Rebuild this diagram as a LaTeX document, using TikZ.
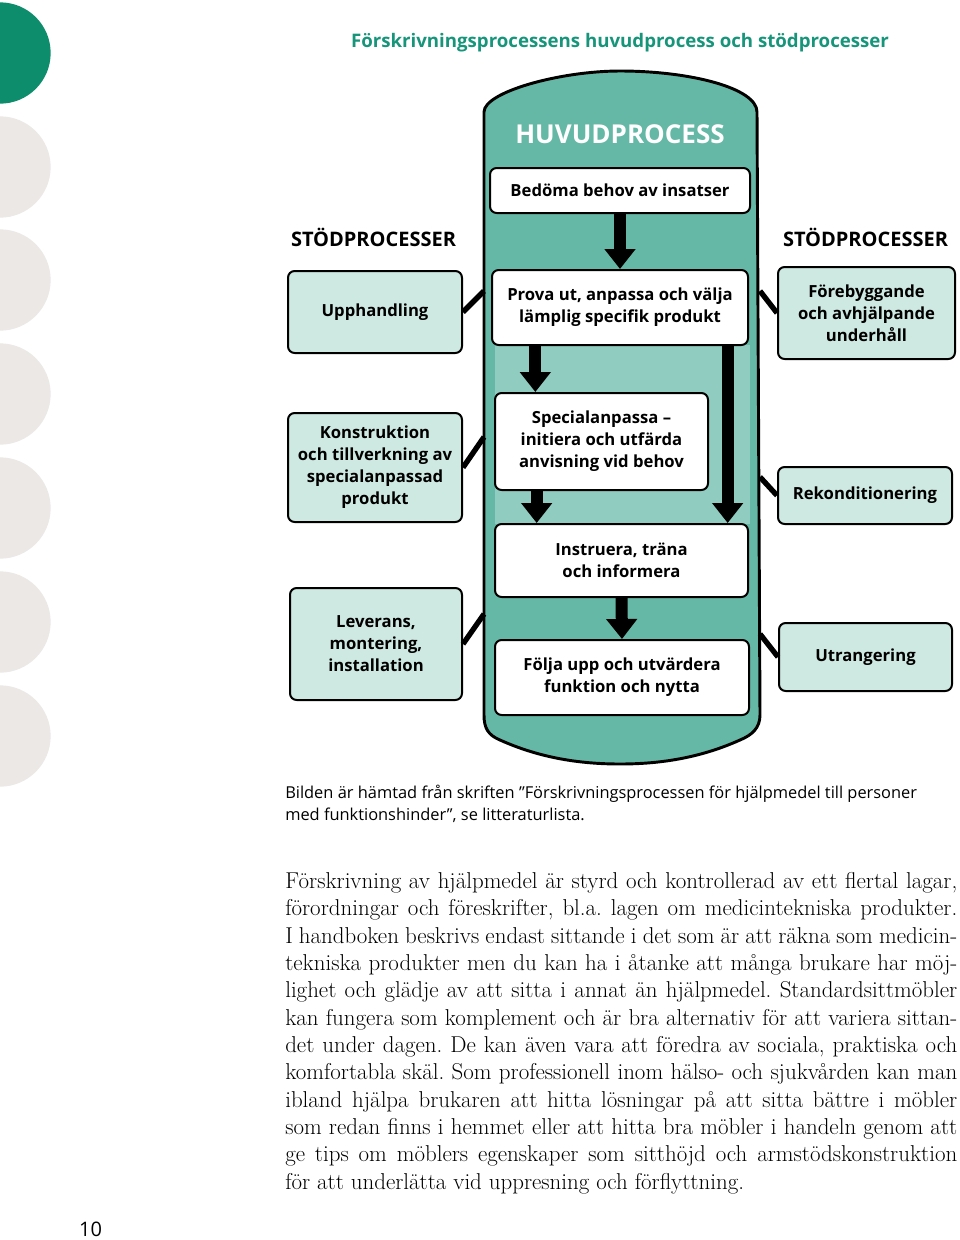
\documentclass[tikz,border=0pt]{standalone}
\usepackage{fontspec}
\setsansfont{Open Sans}
\usepackage{xcolor}
\usepackage{tikz}
\usetikzlibrary{arrows.meta}

\definecolor{pagegreen}{HTML}{0E8D6C}
\definecolor{titlegreen}{HTML}{17957A}
\definecolor{dotgray}{HTML}{EBE8E5}
\definecolor{mainteal}{HTML}{66B8A6}
\definecolor{paleteal}{HTML}{90CCBF}
\definecolor{supteal}{HTML}{CEE8E2}

\newcommand{\fullline}[1]{\makebox[504pt][s]{#1}}

\begin{document}
\frenchspacing
\begin{tikzpicture}[x=0.75pt,y=0.75pt,yscale=-1,xscale=1,
  mainbox/.style={draw,line width=1.5pt,fill=white,rounded corners=5pt,align=center,inner sep=0pt,
    font=\sffamily\bfseries\fontsize{12.5}{16.5}\selectfont},
  supbox/.style={mainbox,fill=supteal},
  heading/.style={font=\sffamily\bfseries\fontsize{15}{18}\selectfont,inner sep=0pt,anchor=base},
  flow/.style={line width=9pt,-{Triangle[width=22.5pt,length=15pt]}},
  link/.style={line width=4pt}]

\useasboundingbox (0,0) rectangle (960,1240);

\fill[pagegreen] (0,53) circle[radius=38pt];
\foreach \cy in {167,280,394,508,622,736}
  \fill[dotgray] (0,\cy) circle[radius=38pt];

\node[font=\sffamily\bfseries\fontsize{14}{16}\selectfont,text=titlegreen,inner sep=0pt] (title) at (620,43)
  {Förskrivningsprocessens huvudprocess och stödprocesser};

\draw[line width=2.2pt,fill=mainteal] (484,112) .. controls (484,92) and (560,71) .. (620,71)
  .. controls (690,71) and (757,88) .. (757,112) -- (760,715)
  .. controls (760,728) and (752,735) .. (740,740) .. controls (700,758) and (660,764) .. (620,764)
  .. controls (580,764) and (540,758) .. (500,740) .. controls (488,735) and (484,728) .. (484,715) -- cycle;
\fill[paleteal] (495,345) rectangle (750,524);

\node[font=\sffamily\bfseries\fontsize{19.5}{22}\selectfont,text=white,inner sep=0pt] (hvd) at (620,134) {HUVUDPROCESS};

\node[heading] (stodL) at (373.5,246) {STÖDPROCESSER};
\node[heading] (stodR) at (865.5,246) {STÖDPROCESSER};

\node[mainbox,minimum width=195pt,minimum height=33.75pt] (bedoma) at (620,190.5) {Bedöma behov av insatser};
\node[mainbox,minimum width=192pt,minimum height=56.25pt] (prova) at (620,307.5) {Prova ut, anpassa och välja\\lämplig specifik produkt};
\node[mainbox,minimum width=159.75pt,minimum height=72.75pt] (special) at (601.5,441.5) {Specialanpassa --\\initiera och utfärda\\anvisning vid behov};
\node[mainbox,minimum width=189.75pt,minimum height=54.75pt] (instr) at (621.5,560.5) {Instruera, träna\\och informera};
\node[mainbox,minimum width=190.5pt,minimum height=56.25pt] (folja) at (622,677.5) {Följa upp och utvärdera\\funktion och nytta};

\node[supbox,minimum width=130.5pt,minimum height=61.5pt] (upph) at (375,312) {Upphandling};
\node[supbox,minimum width=130.5pt,minimum height=81.75pt] (konstr) at (375,467.5) {Konstruktion\\och tillverkning av\\specialanpassad\\produkt};
\node[supbox,minimum width=129pt,minimum height=84pt] (lev) at (376,644) {Leverans,\\montering,\\installation};
\node[supbox,minimum width=132.75pt,minimum height=69pt] (fore) at (866.5,313) {Förebyggande\\och avhjälpande\\underhåll};
\node[supbox,minimum width=130.5pt,minimum height=42.75pt] (rekond) at (865,495.5) {Rekonditionering};
\node[supbox,minimum width=129.75pt,minimum height=51pt] (utrang) at (865.5,657) {Utrangering};

\draw[flow] (bedoma.south) -- (prova.north);
\draw[flow] ([xshift=31pt]special.north west |- prova.south) -- ([xshift=31pt]special.north west);
\draw[flow] ([xshift=-16pt]prova.south east) -- ([xshift=-16pt]instr.north east);
\draw[flow] ([xshift=32pt]special.south west) -- ([xshift=32pt]special.south west |- instr.north);
\draw[flow] (instr.south) -- (folja.north);

\coordinate (hubL1) at (484,291);
\coordinate (hubL2) at (484,437);
\coordinate (hubL3) at (484,614);
\coordinate (hubR1) at (760,291);
\coordinate (hubR2) at (760,477);
\coordinate (hubR3) at (760,634);

\draw[link] (upph.east) -- (hubL1);
\draw[link] (konstr.east) -- (hubL2);
\draw[link] (lev.east) -- (hubL3);
\draw[link] (fore.west) -- (hubR1);
\draw[link] (rekond.west) -- (hubR2);
\draw[link] (utrang.west) -- (hubR3);

\node[anchor=north west,inner sep=0pt,align=left,font=\sffamily\fontsize{12.3}{16.5}\selectfont] (caption) at (285,785)
  {Bilden är hämtad från skriften ”Förskrivningsprocessen för hjälpmedel till personer\\med funktionshinder”, se litteraturlista.};

\node[anchor=north west,inner sep=0pt,align=left,font=\fontsize{17.2}{20.5}\selectfont] (body) at (285,872)
  {\fullline{Förskrivning av hjälpmedel är styrd och kontrollerad av ett flertal lagar,}\\
   \fullline{förordningar och föreskrifter, bl.a. lagen om medicintekniska produkter.}\\
   \fullline{I handboken beskrivs endast sittande i det som är att räkna som medicin-}\\
   \fullline{tekniska produkter men du kan ha i åtanke att många brukare har möj-}\\
   \fullline{lighet och glädje av att sitta i annat än hjälpmedel. Standardsittmöbler}\\
   \fullline{kan fungera som komplement och är bra alternativ för att variera sittan-}\\
   \fullline{det under dagen. De kan även vara att föredra av sociala, praktiska och}\\
   \fullline{komfortabla skäl. Som professionell inom hälso- och sjukvården kan man}\\
   \fullline{ibland hjälpa brukaren att hitta lösningar på att sitta bättre i möbler}\\
   \fullline{som redan finns i hemmet eller att hitta bra möbler i handeln genom att}\\
   \fullline{ge tips om möblers egenskaper som sitthöjd och armstödskonstruktion}\\
   för att underlätta vid uppresning och förflyttning.};

\node[anchor=base,inner sep=0pt,font=\sffamily\fontsize{15}{18}\selectfont] (pagenum) at (90.5,1236) {10};

\end{tikzpicture}
\end{document}
